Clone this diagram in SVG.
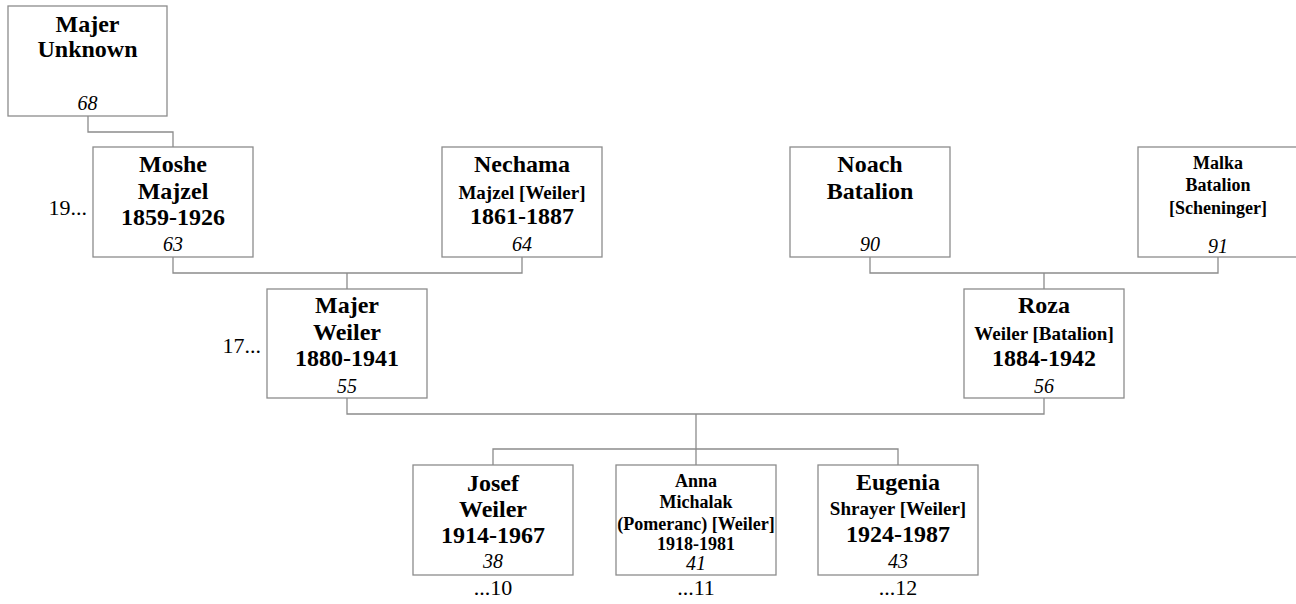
<svg xmlns="http://www.w3.org/2000/svg" width="1296" height="604" viewBox="0 0 1296 604">
<style>
.box{fill:#fff;stroke:#8c8c8c;stroke-width:1.3}
.ln{fill:none;stroke:#8c8c8c;stroke-width:1.3}
text{font-family:"Liberation Serif","Times New Roman",serif;text-anchor:middle;fill:#000}
.b{font-weight:bold;font-size:24px}
.m{font-weight:bold;font-size:19px}
.s{font-weight:bold;font-size:18px}
.n{font-style:italic;font-size:20px}
.r{font-size:22px}
.e{text-anchor:end}
</style>
<rect width="1296" height="604" fill="#fff"/>
<g id="connectors">
<path class="ln" d="M88,116V132H173V147"/>
<path class="ln" d="M173,257V273H522V257M347,273V289"/>
<path class="ln" d="M870,257V273H1218V257M1044,273V289"/>
<path class="ln" d="M347,398V414H1044V398M696,414V465M493,465V449H898V465"/>
</g>
<g id="majer-unknown">
<rect class="box" x="8" y="6" width="159" height="110"/>
<text class="b" x="87.5" y="32">Majer</text>
<text class="b" x="87.5" y="57">Unknown</text>
<text class="n" x="87.5" y="110">68</text>
</g>
<g id="moshe">
<rect class="box" x="93" y="147" width="160" height="110"/>
<text class="b" x="173" y="172">Moshe</text>
<text class="b" x="173" y="199">Majzel</text>
<text class="b" x="173" y="225">1859-1926</text>
<text class="n" x="173" y="251">63</text>
<text class="r e" x="87" y="215">19...</text>
</g>
<g id="nechama">
<rect class="box" x="442" y="147" width="160" height="110"/>
<text class="b" x="522" y="172">Nechama</text>
<text class="m" x="522" y="199">Majzel [Weiler]</text>
<text class="b" x="522" y="224">1861-1887</text>
<text class="n" x="522" y="251">64</text>
</g>
<g id="noach">
<rect class="box" x="790" y="147" width="160" height="110"/>
<text class="b" x="870" y="172">Noach</text>
<text class="b" x="870" y="199">Batalion</text>
<text class="n" x="870" y="251">90</text>
</g>
<g id="malka">
<rect class="box" x="1138" y="147" width="160" height="110"/>
<text class="s" x="1218" y="169">Malka</text>
<text class="s" x="1218" y="191">Batalion</text>
<text class="s" x="1218" y="214">[Scheninger]</text>
<text class="n" x="1218" y="253">91</text>
</g>
<g id="majer-weiler">
<rect class="box" x="267" y="289" width="160" height="109"/>
<text class="b" x="347" y="313">Majer</text>
<text class="b" x="347" y="340">Weiler</text>
<text class="b" x="347" y="366">1880-1941</text>
<text class="n" x="347" y="393">55</text>
<text class="r e" x="261" y="353">17...</text>
</g>
<g id="roza">
<rect class="box" x="964" y="289" width="160" height="109"/>
<text class="b" x="1044" y="313">Roza</text>
<text class="m" x="1044" y="340">Weiler [Batalion]</text>
<text class="b" x="1044" y="366">1884-1942</text>
<text class="n" x="1044" y="393">56</text>
</g>
<g id="josef">
<rect class="box" x="413" y="465" width="160" height="110"/>
<text class="b" x="493" y="491">Josef</text>
<text class="b" x="493" y="517">Weiler</text>
<text class="b" x="493" y="543">1914-1967</text>
<text class="n" x="493" y="568">38</text>
<text class="r" x="493" y="595">...10</text>
</g>
<g id="anna">
<rect class="box" x="616" y="465" width="160" height="110"/>
<text class="s" x="696" y="487">Anna</text>
<text class="s" x="696" y="508">Michalak</text>
<text class="s" x="696" y="530">(Pomeranc) [Weiler]</text>
<text class="s" x="696" y="550">1918-1981</text>
<text class="n" x="696" y="570">41</text>
<text class="r" x="696" y="595">...11</text>
</g>
<g id="eugenia">
<rect class="box" x="818" y="465" width="160" height="110"/>
<text class="b" x="898" y="490">Eugenia</text>
<text class="m" x="898" y="515">Shrayer [Weiler]</text>
<text class="b" x="898" y="542">1924-1987</text>
<text class="n" x="898" y="568">43</text>
<text class="r" x="898" y="595">...12</text>
</g>
</svg>
